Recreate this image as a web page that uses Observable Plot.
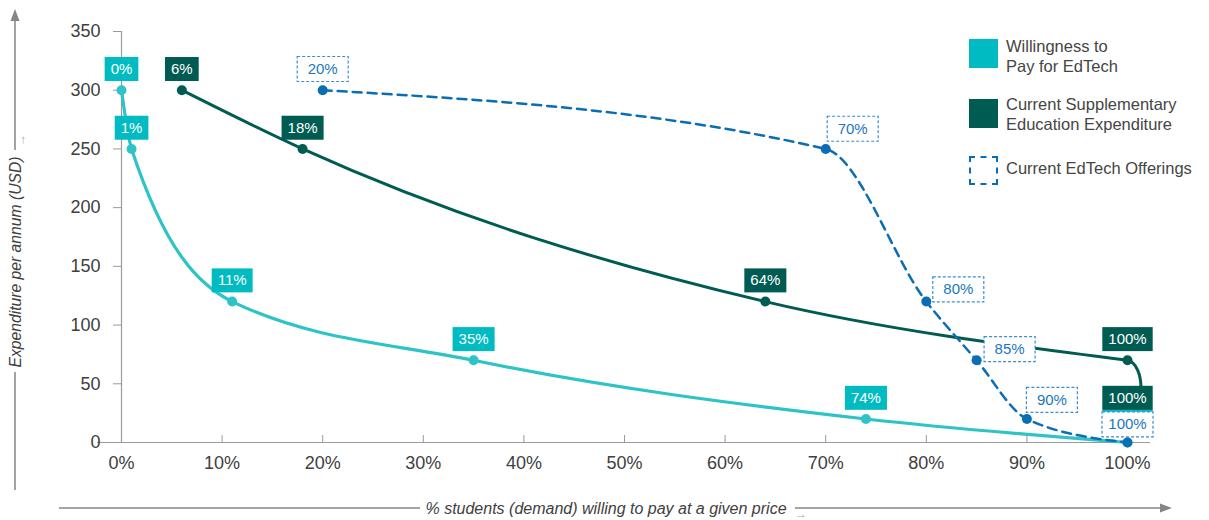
<!DOCTYPE html>
<html><head><meta charset="utf-8">
<script src="https://cdn.jsdelivr.net/npm/d3@7"></script>
<script src="https://cdn.jsdelivr.net/npm/@observablehq/plot@0.6"></script>
<style>
body{margin:0;background:#fff;font-family:"Liberation Sans",Arial,sans-serif;}
#wrap{position:relative;width:1209px;height:520px;overflow:hidden;}
.sw{position:absolute;left:969px;width:29px;height:29px;box-sizing:border-box;}
.tx{position:absolute;left:1006px;font-size:16.5px;line-height:20px;color:#454545;white-space:nowrap;}
</style></head><body><div id="wrap"></div>
<script>
// ---- data ----
const xTicks = [0,10,20,30,40,50,60,70,80,90,100];
const yTicks = [0,50,100,150,200,250,300,350];
const willPct  = [0,1,11,35,74,100];
const willUsd  = [300,250,120,70,20,0];
const suppPct  = [6,18,64,100,100];
const suppUsd  = [300,250,120,70,20];
const offerPct = [20,70,80,85,90,100];
const offerUsd = [300,250,120,70,20,0];
const seriesNames = ["Willingness to\nPay for EdTech","Current Supplementary\nEducation Expenditure","Current EdTech Offerings"];
const yTitle = "Expenditure per annum (USD)";
const xTitle = "% students (demand) willing to pay at a given price";

// ---- layout ----
const W = 1209, H = 520, mL = 121, mR = 82, mT = 31, mB = 78;
const offerLabelDx = [0,27,32,33,25,0];
const offerLabelDy = [-21,-20,-12,-11,-19,-18];
const yMax = 350;
const tickLen = 7 * yMax / (H - mT - mB); // 7px expressed in y units

const teal = "#2ec3c6", tealBox = "#00bcc2", dark = "#005c52", blue = "#0b6db3", blueText = "#1c77bd";
const axisGray = "#9a9a9a", textGray = "#404040";

const will  = willPct.map((x,i)=>({x, y: willUsd[i]}));
const supp  = suppPct.map((x,i)=>({x, y: suppUsd[i]}));
const offer = offerPct.map((x,i)=>({x, y: offerUsd[i]}));

// monotone curve in x, with a rounded hook for a trailing vertical drop (repeated x)
function curveHook(context) {
  let pts = [];
  return {
    areaStart(){}, areaEnd(){},
    lineStart(){ pts = []; },
    point(x, y){ pts.push([+x, +y]); },
    lineEnd(){
      let k = pts.length;
      while (k > 1 && pts[k-1][0] <= pts[k-2][0]) k--;
      const m = d3.curveMonotoneX(context);
      m.lineStart(); pts.slice(0, k).forEach(p => m.point(p[0], p[1])); m.lineEnd();
      for (let i = k; i < pts.length; i++) {
        const [x0, y0] = pts[i-1], [x1, y1] = pts[i];
        const b = 18;
        context.bezierCurveTo(x0 + b, y0 + 4, x1 + b, y1 - 8, x1, y1);
      }
    }
  };
}

const plot = Plot.plot({
  width: W, height: H,
  marginLeft: mL, marginRight: mR, marginTop: mT, marginBottom: mB,
  style: {fontFamily: '"Liberation Sans", Arial, sans-serif', background: "white", overflow: "visible"},
  x: {domain: [0,100]},
  y: {domain: [0,yMax]},
  marks: [
    Plot.ruleX([0], {stroke: axisGray, strokeWidth: 1.2}),
    Plot.ruleX(xTicks.slice(1), {x: d=>d, y1: 0, y2: tickLen, stroke: axisGray}),
    Plot.ruleY([0], {stroke: axisGray, strokeWidth: 1.2, insetLeft: -24, insetRight: -23}),
    Plot.axisY({ticks: yTicks, tickSize: 8, tickPadding: 13, fontSize: 18, stroke: axisGray, color: textGray, label: null}),
    Plot.axisX({ticks: xTicks, tickSize: 0, tickPadding: 14, fontSize: 18, color: textGray, tickFormat: d=>d+"%", label: null}),
    Plot.line(will, {x:"x", y:"y", stroke: teal, strokeWidth: 3.2, curve: "monotone-x"}),
    Plot.line(supp, {x:"x", y:"y", stroke: dark, strokeWidth: 3, curve: curveHook}),
    Plot.line(offer, {x:"x", y:"y", stroke: blue, strokeWidth: 2.5, strokeDasharray: "9,6", curve: "monotone-x"}),
    Plot.dot(will, {x:"x", y:"y", r: 5, fill: teal}),
    Plot.dot(supp, {x:"x", y:"y", r: 5, fill: dark}),
    Plot.dot(offer, {x:"x", y:"y", r: 5, fill: blue}),
    Plot.text(will, {x:"x", y:"y", text: d=>d.x+"%", dy: -21, fill: "white", fontSize: 15}),
    Plot.text(supp, {x:"x", y:"y", text: d=>d.x+"%", dy: -21, fill: "white", fontSize: 15}),
    ...offer.map((d,i)=>Plot.text([d], {x:"x", y:"y", text: d=>d.x+"%", dx: offerLabelDx[i], dy: offerLabelDy[i], fill: blueText, fontSize: 15}))
  ]
});
const wrap = document.getElementById("wrap");
wrap.appendChild(plot);

// label boxes (text marks in mark order: teal, dark, then blue ones)
const svg = d3.select(plot);
const textGroups = svg.selectAll('g[aria-label="text"]').nodes();
function boxes(group, fill, blueStyle) {
  d3.select(group).selectAll("text").each(function() {
    const bb = this.getBBox();
    const cx = bb.x + bb.width/2, cy = bb.y + bb.height/2;
    const w = blueStyle ? 51 : bb.width + 12, h = blueStyle ? 25 : 24;
    const r = document.createElementNS("http://www.w3.org/2000/svg","rect");
    r.setAttribute("x", cx - w/2); r.setAttribute("y", cy - h/2 + 0.5);
    r.setAttribute("width", w); r.setAttribute("height", h);
    if (this.getAttribute("transform")) r.setAttribute("transform", this.getAttribute("transform"));
    r.setAttribute("fill", fill);
    if (blueStyle) { r.setAttribute("stroke", "#3a8dcf"); r.setAttribute("stroke-width", 1.2); r.setAttribute("stroke-dasharray", "3,2"); }
    this.parentNode.insertBefore(r, this);
  });
}
textGroups.forEach((gr, i) => boxes(gr, i === 0 ? tealBox : i === 1 ? dark : "white", i > 1));

// axis titles with arrows
const g = svg.append("g").attr("stroke", "#858585").attr("stroke-width", 1.5);
g.append("line").attr("x1",15).attr("x2",15).attr("y1",490).attr("y2",372);
g.append("line").attr("x1",15).attr("x2",15).attr("y1",150).attr("y2",18);
svg.append("path").attr("d","M15,9L10.5,21L19.5,21Z").attr("fill","#858585");
svg.append("text").attr("transform","translate(15,262) rotate(-90)").attr("text-anchor","middle").attr("dy","0.35em")
  .attr("font-style","italic").attr("font-size",15.7).attr("fill","#404040").text(yTitle);
svg.append("text").attr("transform","translate(21,140) rotate(-90)").attr("text-anchor","middle").attr("dy","0.35em")
  .attr("font-size",12).attr("fill","#aaa").text("→");
g.append("line").attr("x1",59).attr("x2",420).attr("y1",508).attr("y2",508);
g.append("line").attr("x1",795).attr("x2",1162).attr("y1",508).attr("y2",508);
svg.append("path").attr("d","M1172,508L1160,503.5L1160,512.5Z").attr("fill","#858585");
svg.append("text").attr("x",606).attr("y",508).attr("text-anchor","middle").attr("dy","0.35em")
  .attr("font-style","italic").attr("font-size",16).attr("fill","#404040").text(xTitle);
svg.append("text").attr("x",801).attr("y",514).attr("text-anchor","middle").attr("dy","0.35em")
  .attr("font-size",12).attr("fill","#aaa").text("→");

// legend
const legend = [
  {top: 39, txTop: 35.5, style: `background:${tealBox}`},
  {top: 99, txTop: 93.5, style: `background:${dark}`},
  {top: 156, txTop: 157.5, style: `border:2.5px dashed ${blue}`}
];
legend.forEach((l,i) => {
  const s = document.createElement("div"); s.className = "sw"; s.style.cssText = `top:${l.top}px;${l.style}`;
  const t = document.createElement("div"); t.className = "tx"; t.style.top = l.txTop + "px";
  t.innerHTML = seriesNames[i].replace("\n","<br>");
  wrap.appendChild(s); wrap.appendChild(t);
});
</script></body></html>
